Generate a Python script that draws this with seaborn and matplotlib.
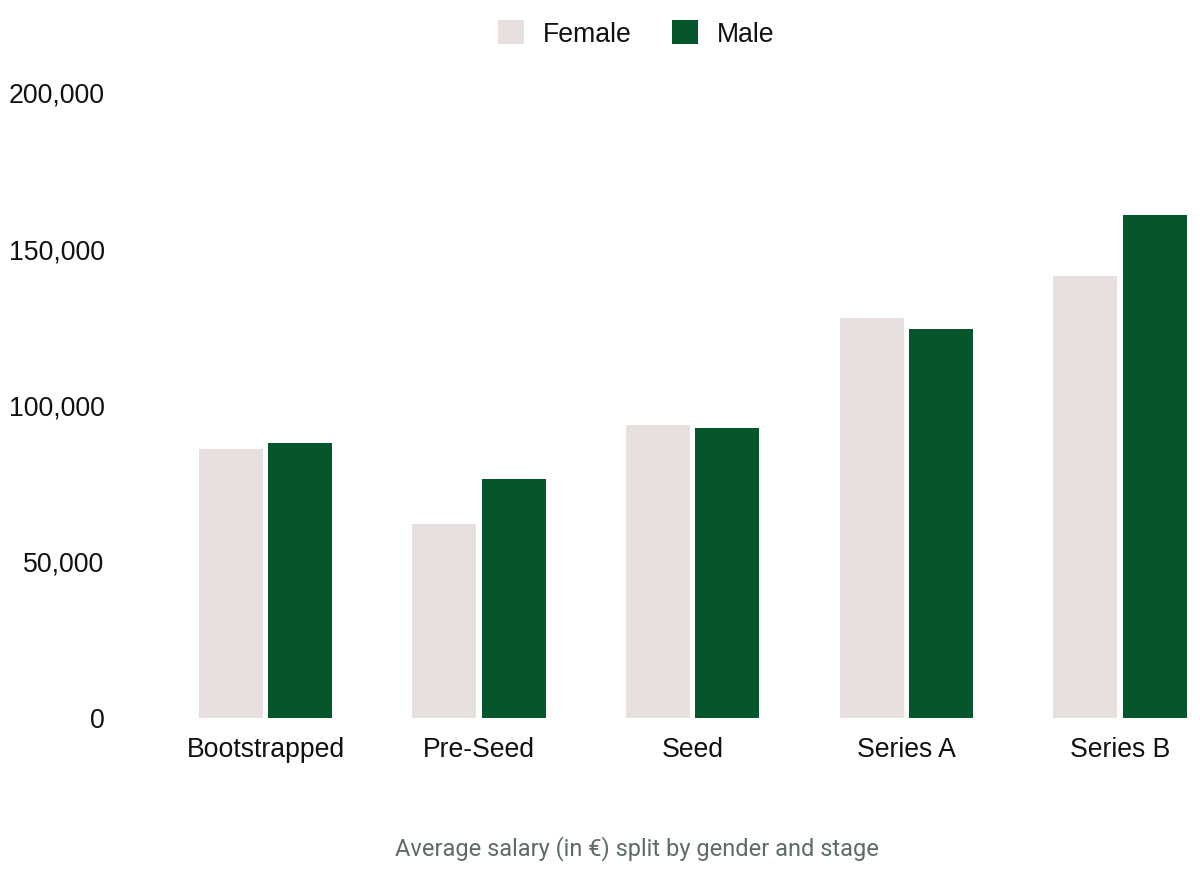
import matplotlib
matplotlib.use("Agg")
import matplotlib.pyplot as plt
import seaborn as sns
import pandas as pd
from matplotlib.patches import Patch

stages = ["Bootstrapped", "Pre-Seed", "Seed", "Series A", "Series B"]
female = [86000, 62000, 93800, 128000, 141500]
male = [88000, 76500, 92900, 124500, 161000]
genders = ["Female", "Male"]
yticks = [0, 50000, 100000, 150000, 200000]
caption = "Average salary (in €) split by gender and stage"

colors = {"Female": "#E8E0DF", "Male": "#06562B"}

df = pd.DataFrame({
    "Stage": stages * 2,
    "Gender": ["Female"] * len(stages) + ["Male"] * len(stages),
    "Salary": female + male,
})

sns.set_theme(style="white")
plt.rcParams["font.family"] = ["Liberation Sans", "DejaVu Sans"]

fig = plt.figure(figsize=(12, 8.94), dpi=100)
ax = fig.add_axes([158.7 / 1200, 176 / 894, 1068 / 1200, 625 / 894])

sns.barplot(data=df, x="Stage", y="Salary", hue="Gender", hue_order=genders,
            palette=colors, saturation=1, width=0.65, gap=0.08, edgecolor="none",
            linewidth=0, errorbar=None, ax=ax, legend=False)

ax.set_xlim(-0.5, 4.5)
ax.set_ylim(0, 200000)
ax.set_yticks(yticks)
ax.set_yticklabels([f"{v:,}" for v in yticks])
ax.set_xlabel("")
ax.set_ylabel("")
for s in ax.spines.values():
    s.set_visible(False)
ax.tick_params(axis="y", length=0, pad=39, labelsize=19.2, labelcolor="#111111")
ax.tick_params(axis="x", length=0, pad=14, labelsize=19.2, labelcolor="#111111")
ax.grid(False)

handles = [Patch(facecolor=colors[g], edgecolor="none", label=g) for g in genders]
fig.legend(handles=handles, loc="center", bbox_to_anchor=(636 / 1200, 1 - 34 / 894),
           ncol=2, frameon=False, fontsize=19.2, handlelength=1.0, handleheight=1.0,
           handletextpad=0.7, columnspacing=1.5, labelcolor="#111111")

fig.text(637 / 1200, 1 - 849 / 894, caption, ha="center", va="center",
         fontsize=17, color="#5F6B66", family=["Roboto", "DejaVu Sans"])

fig.savefig("out.png", dpi=100)
